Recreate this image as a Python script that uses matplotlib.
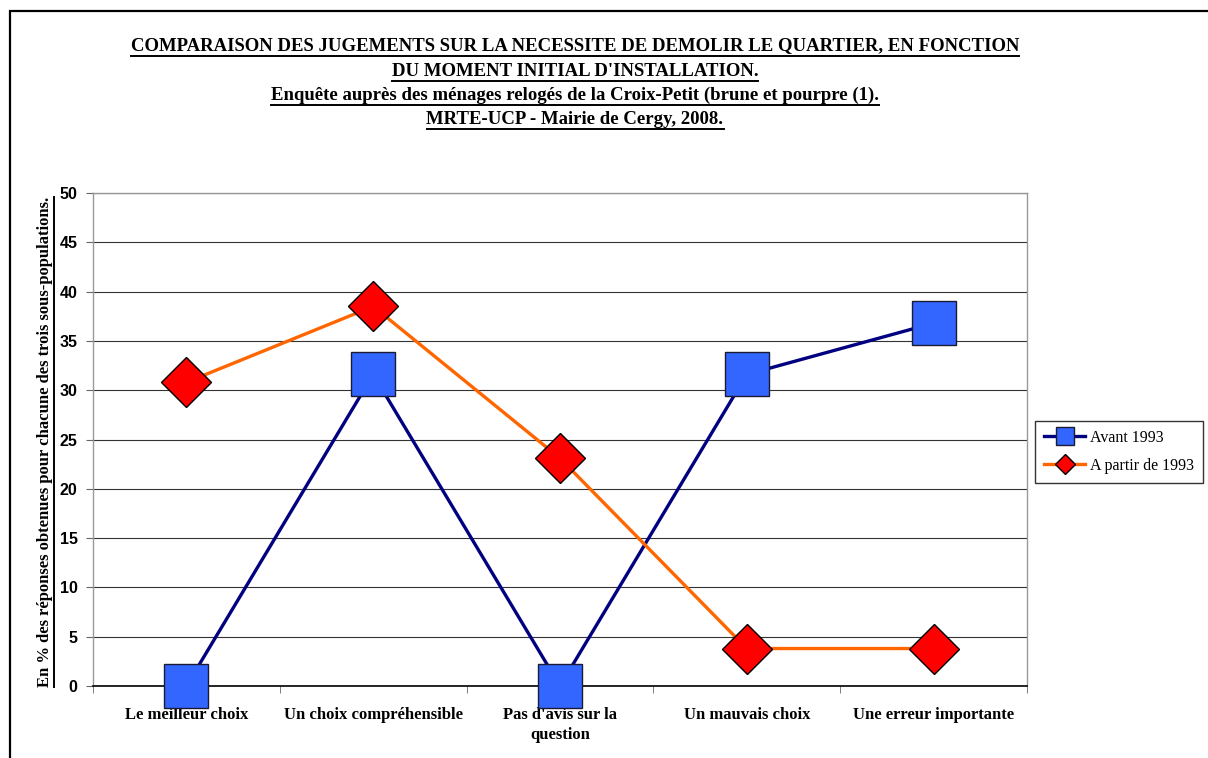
import matplotlib
matplotlib.use("Agg")
import matplotlib.pyplot as plt
from matplotlib.lines import Line2D
from matplotlib.patches import Rectangle
import numpy as np

categories = ["Le meilleur choix", "Un choix compréhensible", "Pas d'avis sur la\nquestion",
              "Un mauvais choix", "Une erreur importante"]
avant_1993 = [0.0, 31.6, 0.0, 31.6, 36.8]
a_partir_1993 = [30.8, 38.5, 23.1, 3.8, 3.8]
series_names = ["Avant 1993", "A partir de 1993"]
yticks = list(range(0, 51, 5))
title_lines = ["COMPARAISON DES JUGEMENTS SUR LA NECESSITE DE DEMOLIR LE QUARTIER, EN FONCTION",
               "DU MOMENT INITIAL D'INSTALLATION.",
               "Enquête auprès des ménages relogés de la Croix-Petit (brune et pourpre (1).",
               "MRTE-UCP - Mairie de Cergy, 2008."]
ylabel = "En % des réponses obtenues pour chacune des trois sous-populations."

W, H = 1208, 758
fig = plt.figure(figsize=(W / 100, H / 100), dpi=100)
fig.patch.set_facecolor("white")

# outer frame
fig.patches.append(Rectangle((10 / W, -0.1), 1.2, (H - 11) / H + 0.1, transform=fig.transFigure,
                             fill=False, edgecolor="black", linewidth=1.6))

ax = fig.add_axes([93 / W, 1 - 686 / H, (1027 - 93) / W, (686 - 193) / H])
x = np.arange(len(categories))

ax.plot(x, avant_1993, color="#000080", linewidth=2.4, marker="s", markersize=31,
        markerfacecolor="#3366FF", markeredgecolor="#1a1a33", markeredgewidth=1.0,
        label=series_names[0], zorder=3, clip_on=False)
ax.plot(x, a_partir_1993, color="#FF6600", linewidth=2.4, marker="D", markersize=25,
        markerfacecolor="#FF0000", markeredgecolor="#000000", markeredgewidth=1.0,
        label=series_names[1], zorder=4, clip_on=False)

ax.set_xlim(-0.5, len(categories) - 0.5)
ax.set_ylim(0, 50)
ax.set_yticks(yticks)
ax.set_yticklabels([str(v) for v in yticks], fontfamily="Liberation Sans", fontweight="bold", fontsize=11.5)
ax.yaxis.grid(True, color="#333333", linewidth=0.8)
ax.set_axisbelow(True)

ax.set_xticks(x)
ax.set_xticklabels(categories, fontfamily="Liberation Serif", fontweight="bold", fontsize=12,
                   linespacing=1.35)
ax.tick_params(axis="x", which="major", length=0, pad=15)
ax.set_xticks(np.arange(-0.5, len(categories)), minor=True)
ax.tick_params(axis="x", which="minor", length=5, color="#666666", direction="out")
ax.tick_params(axis="y", length=5, color="#666666", direction="out", pad=6)

for s in ["top", "right", "left"]:
    ax.spines[s].set_color("#999999")
    ax.spines[s].set_linewidth(1.0)
ax.spines["bottom"].set_color("black")
ax.spines["bottom"].set_linewidth(1.2)

leg = fig.legend(loc="upper left", bbox_to_anchor=(1035 / W, 1 - 421 / H), frameon=True,
                 prop={"family": "Liberation Serif", "size": 11.5}, markerscale=0.42,
                 handlelength=2.6, borderpad=0.55, labelspacing=0.75, handletextpad=0.3,
                 borderaxespad=0, fancybox=False, edgecolor="black")
leg.get_frame().set_linewidth(1.0)

# titles
title_y = [46, 71, 95, 119]
title_texts = []
for line, yy in zip(title_lines, title_y):
    t = fig.text(575 / W, 1 - yy / H, line, ha="center", va="center",
                 fontfamily="Liberation Serif", fontweight="bold", fontsize=13.5)
    title_texts.append(t)

yl = fig.text(45 / W, 1 - 442 / H, ylabel, rotation=90, ha="center", va="center",
              fontfamily="Liberation Serif", fontweight="bold", fontsize=12)

fig.canvas.draw()
r = fig.canvas.get_renderer()
for t in title_texts:
    bb = t.get_window_extent(r)
    y0 = bb.y0 - 1
    fig.add_artist(Line2D([bb.x0 / W, bb.x1 / W], [y0 / H, y0 / H], transform=fig.transFigure,
                          color="black", linewidth=1.4))
bb = yl.get_window_extent(r)
xline = bb.x1 + 1
fig.add_artist(Line2D([xline / W, xline / W], [bb.y0 / H, bb.y1 / H], transform=fig.transFigure,
                      color="black", linewidth=1.4))

fig.savefig("out.png", dpi=100)
